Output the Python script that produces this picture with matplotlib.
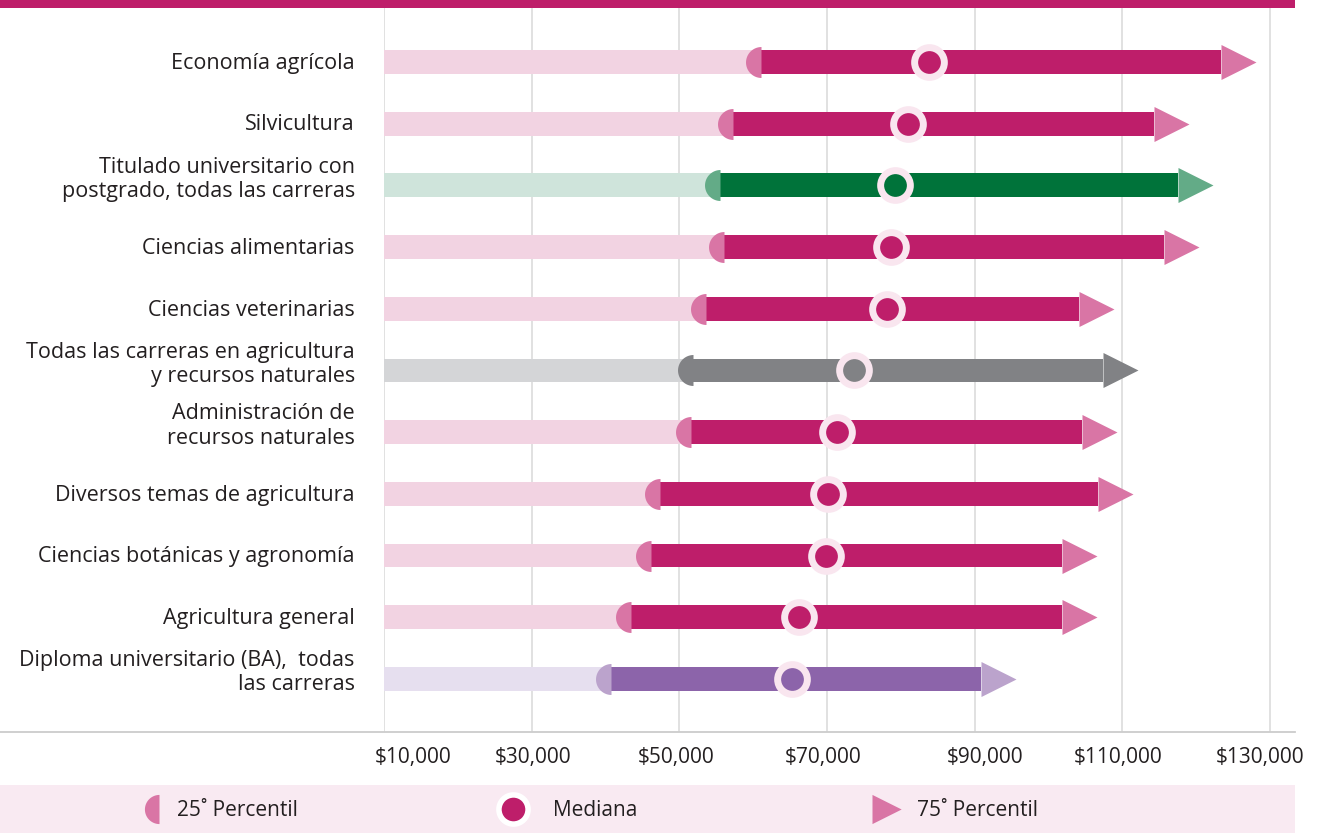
import matplotlib.pyplot as plt
import numpy as np
from matplotlib.path import Path
from matplotlib.patches import Rectangle
from matplotlib.lines import Line2D
from matplotlib.transforms import ScaledTranslation

plt.rcParams['font.family'] = ['Open Sans', 'DejaVu Sans']

# Salarios anuales: percentil 25, mediana y percentil 75 por carrera
labels = [
    'Economía agrícola',
    'Silvicultura',
    'Titulado universitario con\npostgrado, todas las carreras',
    'Ciencias alimentarias',
    'Ciencias veterinarias',
    'Todas las carreras en agricultura\ny recursos naturales',
    'Administración de\nrecursos naturales',
    'Diversos temas de agricultura',
    'Ciencias botánicas y agronomía',
    'Agricultura general',
    'Diploma universitario (BA),  todas\nlas carreras',
]
p25 = [61000, 57300, 55500, 56000, 53600, 51900, 51600, 47400, 46100, 43500, 40700]
median = [83800, 80900, 79200, 78700, 78100, 73700, 71400, 70100, 69900, 66200, 65200]
p75 = [123300, 114200, 117500, 115600, 104100, 107400, 104500, 106700, 101800, 101800, 90800]
groups = ['ag', 'ag', 'grad', 'ag', 'ag', 'all', 'ag', 'ag', 'ag', 'ag', 'ba']
ticks = [10000, 30000, 50000, 70000, 90000, 110000, 130000]

# (light bar, dark bar, end markers)
palette = {
    'ag': ('#F2D3E2', '#BE1E6A', '#D975A5'),
    'grad': ('#CFE4DB', '#00733A', '#63AB87'),
    'all': ('#D4D5D7', '#818285', '#818285'),
    'ba': ('#E6DFEF', '#8C64AA', '#BBA3CC'),
}
ring = '#F9E6EF'
text_col = '#231F20'
fs = 15

# custom markers: left half disc (flat edge on the value) and arrow head (base on the value)
t = np.linspace(0, np.pi, 41)
half_disc = Path(np.column_stack([np.r_[-np.sin(t), 0], np.r_[np.cos(t), 1]]), closed=True)
arrow_head = Path([(0, -0.5), (1, 0), (0, 0.5), (0, -0.5)], closed=True)

W, H = 1330, 833
fig = plt.figure(figsize=(13.3, 8.33), dpi=100)
fig.patch.set_facecolor('white')

ax = fig.add_axes([384 / W, 1 - 732 / H, (1295 - 384) / W, (732 - 8) / H])
ax.set_xlim(10000, 10000 + (1295 - 384) * 20000 / 147.7)
ax.set_ylim(10.86, -0.875)

for i in range(len(labels)):
    light, dark, mk = palette[groups[i]]
    ax.barh(i, p25[i] - 10000, left=10000, height=0.385, color=light, zorder=2)
    ax.barh(i, p75[i] - p25[i], left=p25[i], height=0.385, color=dark, zorder=2)
    ax.plot(p25[i], i, marker=half_disc, markersize=22.3, color=mk, markeredgewidth=0, zorder=3)
    ax.plot(p75[i], i, marker=arrow_head, markersize=50.4, color=mk, markeredgewidth=0, zorder=3)
    ax.plot(median[i], i, marker='o', markersize=21.4, markerfacecolor=dark,
            markeredgecolor=ring, markeredgewidth=5, zorder=4)
    off = -0.1 if '\n' in labels[i] else 0.02
    ax.text(-0.032, i + off, labels[i], transform=ax.get_yaxis_transform(),
            ha='right', va='center', fontsize=15.5, color=text_col, linespacing=1.2)

ax.set_yticks([])
ax.set_xticks(ticks)
ax.set_xticklabels(['${:,}'.format(v) for v in ticks], fontsize=fs, color=text_col)
ax.tick_params(axis='x', length=0, pad=11)
# the original labels sit slightly off their gridlines
for lab, dx in zip(ax.get_xticklabels(), [29, 1, -3, -4, 10, -4, -10]):
    lab.set_transform(lab.get_transform() + ScaledTranslation(dx / 100, 0, fig.dpi_scale_trans))
ax.grid(axis='x', color='#DCDCDC', linewidth=1.2, zorder=0)
ax.set_axisbelow(True)
for s in ax.spines.values():
    s.set_visible(False)

# bottom rule, header bar and legend band
fig.add_artist(Line2D([0, 1295 / W], [1 - 732 / H] * 2, color='#CCCCCC', linewidth=1.3))
fig.add_artist(Rectangle((0, 1 - 7.5 / H), 1295 / W, 7.5 / H, color='#BE1E6A', linewidth=0))

leg = fig.add_axes([0, 0, 1295 / W, 48 / H])
leg.set_xlim(0, 1295)
leg.set_ylim(0, 48)
leg.set_facecolor('#F9EAF2')
for s in leg.spines.values():
    s.set_visible(False)
leg.set_xticks([])
leg.set_yticks([])
leg.plot(159, 24, marker=half_disc, markersize=21, color='#D975A5', markeredgewidth=0)
leg.text(177, 23, '25˚ Percentil', va='center', fontsize=fs, color=text_col)
leg.plot(513, 24, marker='o', markersize=21, markerfacecolor='#BE1E6A',
         markeredgecolor='white', markeredgewidth=4)
leg.text(553, 23, 'Mediana', va='center', fontsize=fs, color=text_col)
leg.plot(872, 24, marker=arrow_head, markersize=42, color='#D975A5', markeredgewidth=0)
leg.text(917, 23, '75˚ Percentil', va='center', fontsize=fs, color=text_col)

fig.savefig('out.png', dpi=100, facecolor='white')
